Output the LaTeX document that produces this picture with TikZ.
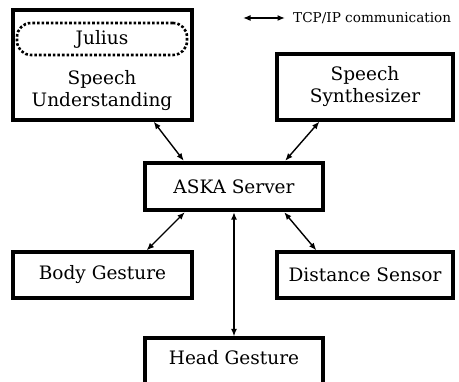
\documentclass[tikz,border=0pt]{standalone}
\usepackage{fontspec}
\setmainfont{DejaVu Serif}
\usetikzlibrary{arrows.meta}
\begin{document}
\begin{tikzpicture}[x=1pt,y=1pt,
  box/.style={draw=black, line width=3.2pt, fill=white, inner sep=0pt, align=center,
    font=\fontsize{18.5}{22}\selectfont},
  link/.style={line width=1.4pt, {Latex[length=7.5pt,width=6pt]}-{Latex[length=7.5pt,width=6pt]}},
  lbl/.style={font=\fontsize{18.5}{22}\selectfont, align=center, inner sep=0pt}
]
\clip (0,0) rectangle (459,382);
\fill[white] (0,0) rectangle (459,382);
% boxes
\node[box, minimum width=179pt, minimum height=110pt] (su) at (102.5,317) {};
\node[draw, dotted, line width=2.6pt, rounded corners=14pt, minimum width=170pt, minimum height=32pt, inner sep=0pt] (jul) at (102,343) {};
\node[lbl] (julius) at (102,343) {Julius};
\node[lbl] (sutext) at (102,291) {Speech\\Understanding};
\node[box, minimum width=176pt, minimum height=66pt] (synth) at (365,295) {Speech\\Synthesizer};
\node[box, line width=4.4pt, minimum width=178pt, minimum height=47pt] (aska) at (234,195.5) {ASKA Server};
\node[box, minimum width=179pt, minimum height=46pt] (body) at (102.5,107) {Body Gesture};
\node[box, minimum width=176pt, minimum height=46pt] (dist) at (365,107) {Distance Sensor};
\node[box, minimum width=178pt, minimum height=70pt] (head) at (234,9) {};
\node[lbl] (headtext) at (234,24) {Head Gesture};
% connectors
\draw[link] ([xshift=-40pt]su.south east) -- ([xshift=41pt]aska.north west);
\draw[link] ([xshift=44pt]synth.south west) -- ([xshift=-40pt]aska.north east);
\draw[link] ([xshift=42pt]aska.south west) -- ([xshift=-47pt]body.north east);
\draw[link] ([xshift=-41pt]aska.south east) -- ([xshift=41pt]dist.north west);
\draw[link] (aska.south) -- (head.north);
% legend
\coordinate (l1) at (243,364);
\coordinate (l2) at (285,364);
\draw[link] (l1) -- (l2);
\node[anchor=west, inner sep=0pt, font=\fontsize{13.6}{16}\selectfont] (legend) at (293,364) {TCP/IP communication};
\end{tikzpicture}
\end{document}
